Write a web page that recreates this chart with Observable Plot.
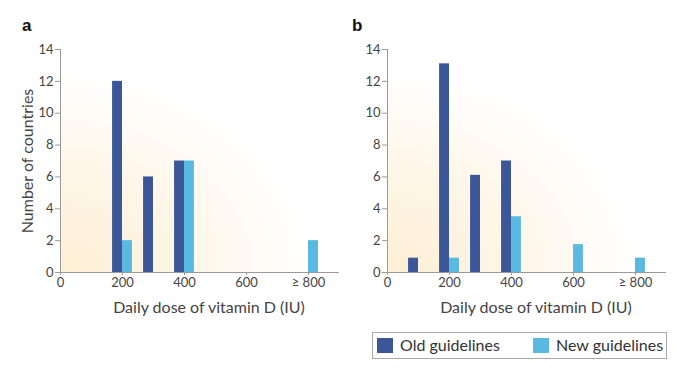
<!DOCTYPE html>
<html>
<head>
<meta charset="utf-8">
<script src="https://cdn.jsdelivr.net/npm/d3@7"></script>
<script src="https://cdn.jsdelivr.net/npm/@observablehq/plot@0.6"></script>
<style>
  html, body { margin: 0; padding: 0; background: #fff; }
  #fig { position: relative; width: 676px; height: 368px; overflow: hidden; font-family: Lato, "Open Sans", sans-serif; color: #444; }
  .panel { position: absolute; top: 0; }
  .letter { position: absolute; font-family: "Liberation Sans", Arial, sans-serif; font-weight: bold; font-size: 17px; color: #111; }
  #legend { position: absolute; left: 372px; top: 332px; width: 293px; height: 25px; border: 1px solid #aaa; box-sizing: content-box; }
  .sw { position: absolute; top: 5px; width: 16px; height: 15px; }
  .lt { position: absolute; top: 3px; font-size: 16px; line-height: 18px; color: #333; white-space: nowrap; }
</style>
</head>
<body>
<div id="fig">
  <div class="letter" style="left:22px; top:16px;">a</div>
  <div class="letter" style="left:352px; top:16px;">b</div>
  <div id="pa" class="panel" style="left:0px;"></div>
  <div id="pb" class="panel" style="left:336px;"></div>
  <div id="legend">
    <div class="sw" style="left:4px; background:#3b5797;"></div>
    <div class="lt" style="left:27px;">Old guidelines</div>
    <div class="sw" style="left:160px; background:#5ab9e0;"></div>
    <div class="lt" style="left:183px;">New guidelines</div>
  </div>
</div>
<script>
// ---- data ----
const doses = [100, 200, 300, 400, 600, 800];
const oldA = [0, 12, 6, 7, 0, 0];
const newA = [0, 2, 0, 7, 0, 2];
const oldB = [0.9, 13.1, 6.1, 7, 0, 0];
const newB = [0, 0.9, 0, 3.5, 1.75, 0.9];
const xTicks = [0, 200, 400, 600, 800];
const yTicks = [0, 2, 4, 6, 8, 10, 12, 14];
const xTitle = "Daily dose of vitamin D (IU)";
const yTitle = "Number of countries";

const OLD = "#3b5797", NEW = "#5ab9e0";
const BW = 32; // bar width in dose units

function rows(vals) {
  return doses.map((d, i) => ({dose: d, value: vals[i]})).filter(r => r.value > 0);
}

function panel(oldV, newV, gid, marginLeft, showYTitle) {
  const width = 340;
  const marginRight = width - marginLeft - 279;
  const plot = Plot.plot({
    width, height: 320,
    marginLeft, marginRight, marginTop: 49, marginBottom: 48,
    style: {fontFamily: "Lato, 'Open Sans', sans-serif", fontSize: "13px", background: "transparent", overflow: "visible"},
    x: {domain: [0, 900]},
    y: {domain: [0, 14]},
    marks: [
      Plot.frame({fill: `url(#${gid})`, stroke: null}),
      Plot.rectY(rows(oldV), {x1: d => d.dose - BW, x2: d => d.dose, y1: 0, y2: "value", fill: OLD}),
      Plot.rectY(rows(newV), {x1: d => d.dose, x2: d => d.dose + BW, y1: 0, y2: "value", fill: NEW}),
      Plot.ruleY([0], {stroke: "#9a9a9a"}),
      Plot.ruleX([0], {stroke: "#9a9a9a"}),
      Plot.axisX({ticks: xTicks, tickFormat: d => d === 800 ? "\u2265 800" : String(d), tickSize: 3, tickPadding: 2, stroke: "#9a9a9a", fill: "#444", label: null, fontSize: 13}),
      Plot.axisY({ticks: yTicks, tickSize: 5, tickPadding: 2, stroke: "#9a9a9a", fill: "#444", label: null, fontSize: 13}),
      Plot.text([xTitle], {text: d => d, frameAnchor: "bottom", textAnchor: "middle", lineAnchor: "middle", dy: 35, dx: 9, fontSize: 16, fill: "#444"}),
      showYTitle ? Plot.text([yTitle], {text: d => d, frameAnchor: "left", textAnchor: "middle", rotate: -90, lineAnchor: "middle", dx: -33, fontSize: 16, fill: "#444"}) : null
    ]
  });
  d3.select(plot).insert("defs", ":first-child").html(
    `<radialGradient id="${gid}" cx="0" cy="1" r="1.05" gradientUnits="objectBoundingBox">
       <stop offset="0" stop-color="#fdefd4"/>
       <stop offset="0.45" stop-color="#fef6e8"/>
       <stop offset="0.85" stop-color="#ffffff"/>
     </radialGradient>`);
  return plot;
}

document.getElementById("pa").appendChild(panel(oldA, newA, "gA", 60, true));
document.getElementById("pb").appendChild(panel(oldB, newB, "gB", 51, false));
</script>
</body>
</html>
